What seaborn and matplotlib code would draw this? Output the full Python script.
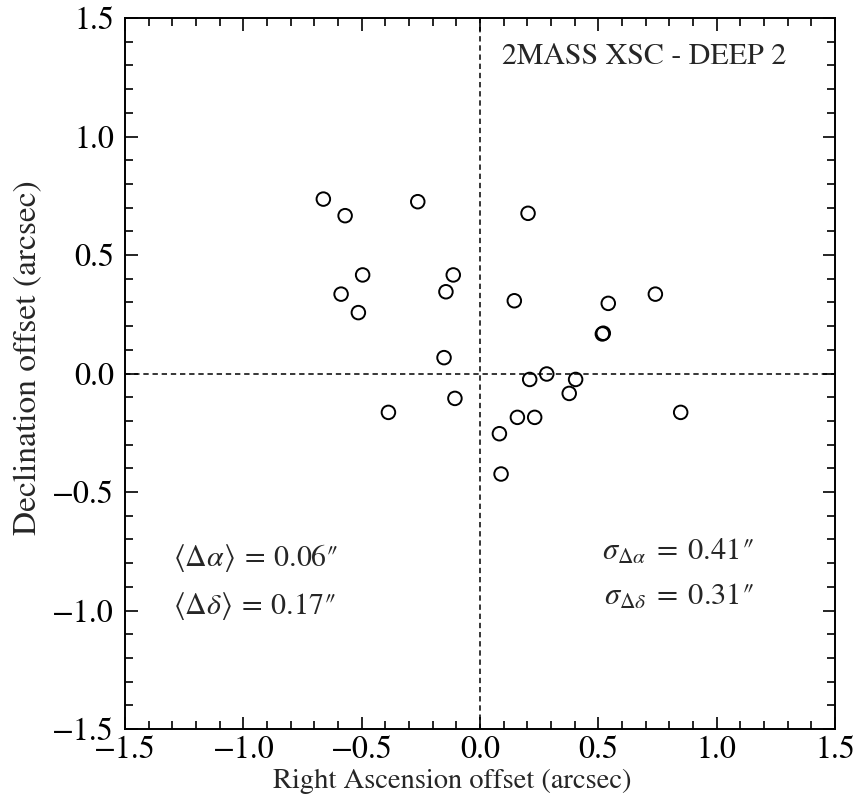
import matplotlib
matplotlib.use('Agg')
import matplotlib.pyplot as plt
from matplotlib.ticker import MultipleLocator
import pandas as pd
import seaborn as sns

# offsets 2MASS XSC - DEEP2 (arcsec)
ra_offset = [-0.662, -0.570, -0.263, -0.496, -0.113, -0.587, -0.144, -0.514,
             -0.152, -0.106, -0.387, 0.203, 0.145, 0.542, 0.741, 0.517,
             0.521, 0.282, 0.210, 0.404, 0.377, 0.848, 0.158, 0.231,
             0.082, 0.089]
dec_offset = [0.736, 0.666, 0.725, 0.416, 0.416, 0.335, 0.345, 0.257,
              0.067, -0.105, -0.164, 0.676, 0.307, 0.296, 0.335, 0.167,
              0.170, -0.002, -0.025, -0.025, -0.084, -0.164, -0.185, -0.185,
              -0.254, -0.424]

df = pd.DataFrame({'ra': ra_offset, 'dec': dec_offset})

sns.set_style('ticks')
plt.rcParams['font.family'] = ['STIXGeneral', 'Liberation Serif', 'DejaVu Serif']
plt.rcParams['mathtext.fontset'] = 'stix'

fig = plt.figure(figsize=(8.57, 8.05), dpi=100)
ax = fig.add_axes([0.1459, 0.0944, 0.8284, 0.8832])

# lignes de reference a zero
ax.axvline(0, color='black', ls=(0, (3.5, 2.5)), lw=1.1, zorder=1)
ax.axhline(0, color='black', ls=(0, (3.5, 2.5)), lw=1.1, zorder=1)

sns.scatterplot(x='ra', y='dec', data=df, ax=ax, marker='o', s=95,
                facecolor='none', edgecolor='black', linewidth=1.4, zorder=3)

ax.set_xlim(-1.5, 1.5)
ax.set_ylim(-1.5, 1.5)
ax.xaxis.set_major_locator(MultipleLocator(0.5))
ax.yaxis.set_major_locator(MultipleLocator(0.5))
ax.xaxis.set_minor_locator(MultipleLocator(0.1))
ax.yaxis.set_minor_locator(MultipleLocator(0.1))
ax.tick_params(which='both', direction='in', top=True, right=True,
               labelsize=23, width=1.2, color='black', labelcolor='black')
ax.tick_params(which='major', length=9)
ax.tick_params(which='minor', length=5.5)
ax.tick_params(axis='x', which='major', pad=5)
ax.tick_params(axis='y', which='major', pad=8)
for sp in ax.spines.values():
    sp.set_linewidth(1.4)
    sp.set_color('black')

ax.set_xlabel('Right Ascension offset (arcsec)', fontsize=20.5)
ax.set_ylabel('Declination offset (arcsec)', fontsize=24)
ax.xaxis.set_label_coords(0.4606, -0.0555)
ax.yaxis.set_label_coords(-0.1155, 0.522)

ax.text(0.932, 0.945, '2MASS XSC - DEEP 2', transform=ax.transAxes,
        ha='right', va='center', fontsize=21.5)
ax.text(0.068, 0.2293, '$\\langle\\Delta\\alpha\\rangle\\:=\\:0.06\u2033$',
        transform=ax.transAxes, ha='left', va='baseline', fontsize=21.5)
ax.text(0.068, 0.1617, '$\\langle\\Delta\\delta\\rangle\\:=\\:0.17\u2033$',
        transform=ax.transAxes, ha='left', va='baseline', fontsize=21.5)
ax.text(0.885, 0.2377, '$\\sigma_{\\Delta\\alpha}\\;=\\;0.41\u2033$',
        transform=ax.transAxes, ha='right', va='baseline', fontsize=22)
ax.text(0.885, 0.1744, '$\\sigma_{\\Delta\\delta}\\;=\\;0.31\u2033$',
        transform=ax.transAxes, ha='right', va='baseline', fontsize=22)

fig.savefig('out.png', dpi=100)
plt.close(fig)
